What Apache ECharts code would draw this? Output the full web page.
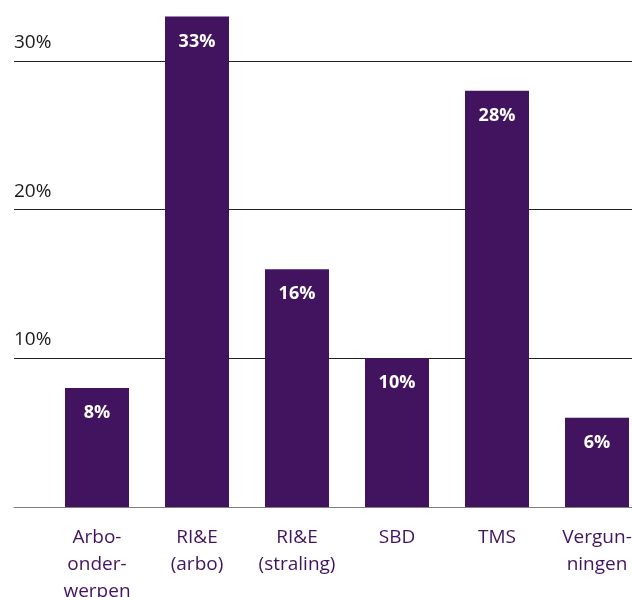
<!DOCTYPE html>
<html><head><meta charset="utf-8">
<script src="https://cdn.jsdelivr.net/npm/echarts@6/dist/echarts.min.js"></script>
<style>html,body{margin:0;padding:0;background:#fff}#c{width:632px;height:597px}</style>
</head><body><div id="c"></div>
<script>
const categories = ['Arbo-\nonder-\nwerpen', 'RI&E\n(arbo)', 'RI&E\n(straling)', 'SBD', 'TMS', 'Vergun-\nningen'];
const values = [8, 33, 16, 10, 28, 6];
const yTicks = [0, 10, 20, 30];
const font = '"Open Sans", "Noto Sans", sans-serif';
const purple = '#42145f';
const chart = echarts.init(document.getElementById('c'));
chart.setOption({
  animation: false,
  grid: [
    {left: 14, right: 0, top: 61, bottom: 90, outerBoundsMode: 'none', containLabel: false},
    {left: 47, width: 600, top: 61, bottom: 90, outerBoundsMode: 'none', containLabel: false}
  ],
  xAxis: [
    {gridIndex: 0, type: 'value', min: 0, max: 1, show: true,
     axisLine: {show: true, onZero: false, lineStyle: {color: '#808080', width: 1}},
     axisTick: {show: false}, axisLabel: {show: false}, splitLine: {show: false}},
    {gridIndex: 1, type: 'category', data: categories,
     axisLine: {show: false}, axisTick: {show: false},
     axisLabel: {color: purple, fontFamily: font, fontSize: 19, lineHeight: 27, margin: 17, interval: 0}}
  ],
  yAxis: [
    {gridIndex: 0, type: 'value', min: 0, max: 30, interval: 10,
     axisLine: {show: false}, axisTick: {show: false},
     splitLine: {show: true, lineStyle: {color: ['transparent', '#222', '#222', '#222'], width: 1}},
     axisLabel: {inside: true, margin: 0, align: 'left', verticalAlign: 'bottom', padding: [0, 0, 9, 0],
       color: '#1a1a1a', fontFamily: font, fontSize: 19,
       formatter: v => (yTicks.indexOf(v) > 0 ? v + '%' : '')}},
    {gridIndex: 1, type: 'value', min: 0, max: 30, interval: 10, show: false, splitLine: {show: false}}
  ],
  series: [{
    type: 'bar', xAxisIndex: 1, yAxisIndex: 1, data: values, barWidth: 64, clip: false,
    itemStyle: {color: purple},
    label: {show: true, position: 'insideTop', distance: 16, color: '#fff', fontFamily: font,
      fontWeight: 'bold', fontSize: 18, formatter: p => p.value + '%'}
  }]
});
</script></body></html>
